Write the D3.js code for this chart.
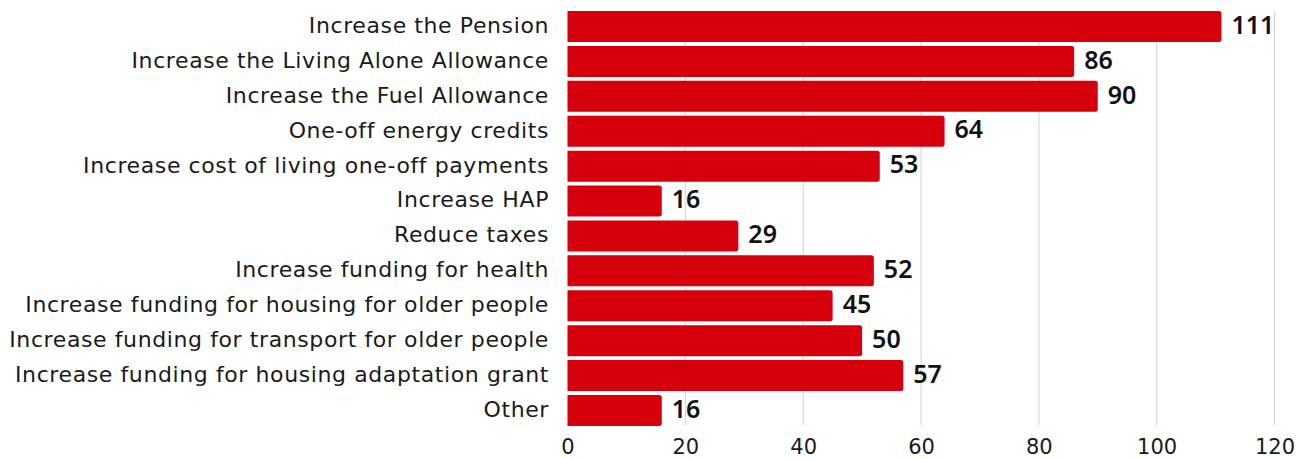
<!DOCTYPE html>
<html>
<head>
<meta charset="utf-8">
<script src="https://cdn.jsdelivr.net/npm/d3@7"></script>
<style>
  body { margin: 0; background: #fff; }
  svg { display: block; font-family: "DejaVu Sans", sans-serif; }
</style>
</head>
<body>
<div id="chart-area"></div>
<script>
const categories = [
    "Increase the Pension",
    "Increase the Living Alone Allowance",
    "Increase the Fuel Allowance",
    "One-off energy credits",
    "Increase cost of living one-off payments",
    "Increase HAP",
    "Reduce taxes",
    "Increase funding for health",
    "Increase funding for housing for older people",
    "Increase funding for transport for older people",
    "Increase funding for housing adaptation grant",
    "Other"
];
const values = [111, 86, 90, 64, 53, 16, 29, 52, 45, 50, 57, 16];
const xTicks = [0, 20, 40, 60, 80, 100, 120];

const width = 1306;
const height = 459;
const margin = { top: 11, right: 31.5, bottom: 34, left: 567.5 };
const innerW = width - margin.left - margin.right;
const innerH = height - margin.top - margin.bottom;

const svg = d3.select("#chart-area")
    .append("svg")
    .attr("width", width)
    .attr("height", height);

const g = svg.append("g")
    .attr("transform", `translate(${margin.left},${margin.top})`);

// Escalas
const x = d3.scaleLinear().domain([0, 120]).range([0, innerW]);
const y = d3.scaleBand()
    .domain(categories)
    .range([0, 415])
    .paddingInner(0.112)
    .paddingOuter(0);

// Rejilla
g.selectAll("line.grid")
    .data(xTicks.slice(1))
    .enter()
    .append("line")
    .attr("class", "grid")
    .attr("x1", d => x(d))
    .attr("x2", d => x(d))
    .attr("y1", 0)
    .attr("y2", innerH)
    .attr("stroke", "#d0d0d0")
    .attr("stroke-width", 1);

// Barras
g.selectAll("path.bar")
    .data(values)
    .enter()
    .append("path")
    .attr("class", "bar")
    .attr("fill", "#d5000b")
    .attr("d", (d, i) => {
        const y0 = y(categories[i]);
        const h = y.bandwidth();
        const w = x(d);
        const r = 2.5;
        return `M0,${y0}H${w - r}Q${w},${y0} ${w},${y0 + r}V${y0 + h - r}Q${w},${y0 + h} ${w - r},${y0 + h}H0Z`;
    });

// Etiquetas de valores
g.selectAll("text.value")
    .data(values)
    .enter()
    .append("text")
    .attr("class", "value")
    .attr("x", d => x(d) + 10)
    .attr("y", (d, i) => y(categories[i]) + y.bandwidth() / 2)
    .attr("dy", "0.29em")
    .attr("font-family", "Noto Sans, sans-serif")
    .attr("font-size", "25px")
    .attr("font-weight", 600)
    .attr("fill", "#111")
    .text(d => d);

// Etiquetas de categorias
g.selectAll("text.cat")
    .data(categories)
    .enter()
    .append("text")
    .attr("class", "cat")
    .attr("x", -18.5)
    .attr("y", d => y(d) + y.bandwidth() / 2)
    .attr("dy", "0.29em")
    .attr("text-anchor", "end")
    .attr("font-size", "22px")
    .attr("letter-spacing", "0.6px")
    .attr("fill", "#1a1a1a")
    .text(d => d);

// Eje X
const bottomAxis = d3.axisBottom(x).tickValues(xTicks).tickSize(0);
const ax = g.append("g")
    .attr("transform", `translate(0,${innerH})`)
    .call(bottomAxis);
ax.select(".domain").remove();
ax.selectAll("text")
    .attr("y", 29)
    .attr("dy", 0)
    .attr("font-size", "21px")
    .attr("font-family", "DejaVu Sans, sans-serif")
    .attr("fill", "#1a1a1a");
</script>
</body>
</html>
